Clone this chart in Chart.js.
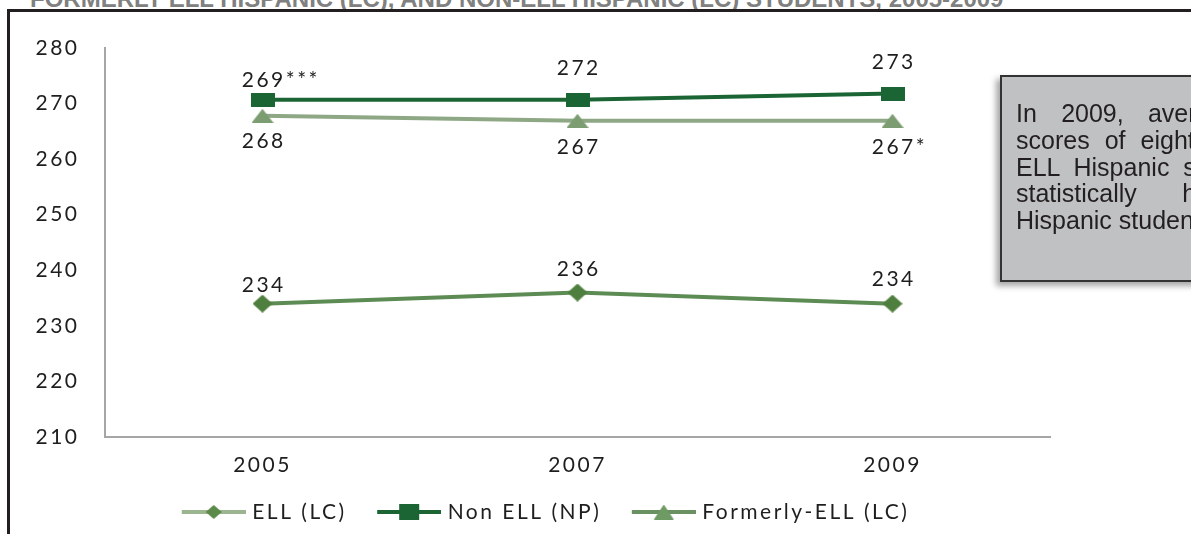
<!DOCTYPE html>
<html>
<head>
<meta charset="utf-8">
<script src="https://cdn.jsdelivr.net/npm/chart.js@4.4.0/dist/chart.umd.min.js"></script>
<style>
  html, body { margin: 0; padding: 0; background: #fff; }
  body { width: 1191px; height: 534px; position: relative; overflow: hidden; font-family: "Liberation Sans", Arial, sans-serif; }
  #title { position: absolute; left: 30px; top: -13px; white-space: nowrap; font-weight: bold; font-size: 24px; line-height: 24px; color: #808080; }
  #frame { position: absolute; left: 7px; top: 9px; width: 1300px; height: 600px; border-left: 3px solid #231f20; border-top: 3px solid #231f20; }
  #note { position: absolute; left: 1000px; top: 75px; width: 360px; height: 207px; box-sizing: border-box;
          background: #c0c1c3; border: 2px solid #333; box-shadow: -4px 4px 6px rgba(0,0,0,0.35);
          padding: 23px 0 0 14px; font-size: 25px; line-height: 26.8px; color: #231f20; }
  #note div { width: 330px; white-space: nowrap; text-align: justify; text-align-last: justify; }
  #note div.last { text-align-last: left; }
  canvas { position: absolute; left: 0; top: 0; }
</style>
</head>
<body>
<div id="title">FORMERLY ELL HISPANIC (LC), AND NON-ELL HISPANIC (LC) STUDENTS, 2005-2009</div>
<div id="frame"></div>
<canvas id="chart" width="1191" height="534"></canvas>
<div id="note">
  <div>In 2009, average reading</div>
  <div>scores of eighth-grade prior</div>
  <div>ELL Hispanic students were</div>
  <div>statistically higher than</div>
  <div class="last">Hispanic students.</div>
</div>
<script>
const years = ['2005', '2007', '2009'];

const ellScores = [234, 236, 234];
const nonEllScores = [270.7, 270.7, 271.8];
const formerEllScores = [267.8, 266.9, 266.9];

const ellLabels = ['234', '236', '234'];
const nonEllLabels = ['269***', '272', '273'];
const formerEllLabels = ['268', '267', '267*'];

const yMin = 210;
const yMax = 280;
const yStep = 10;

const FONT = 'Lato';
const SPACING = '2.5px';

function marker(shape, color, w, h) {
    const c = document.createElement('canvas');
    c.width = w;
    c.height = h;
    const g = c.getContext('2d');
    g.fillStyle = color;
    g.beginPath();
    if (shape === 'diamond') {
        g.moveTo(w / 2, 0); g.lineTo(w, h / 2); g.lineTo(w / 2, h); g.lineTo(0, h / 2);
    } else if (shape === 'triangle') {
        g.moveTo(w / 2, 0); g.lineTo(w, h); g.lineTo(0, h);
    } else {
        g.rect(0, 0, w, h);
    }
    g.closePath();
    g.fill();
    return c;
}

// line + marker icon for the legend, with a blank strip on the left as item gap
function legendIcon(shape, lineColor, markColor, w, h) {
    const gap = 10;
    const c = document.createElement('canvas');
    c.width = 64 + gap;
    c.height = 22;
    const g = c.getContext('2d');
    g.strokeStyle = lineColor;
    g.lineWidth = 4;
    g.beginPath();
    g.moveTo(gap, 11);
    g.lineTo(gap + 64, 11);
    g.stroke();
    g.drawImage(marker(shape, markColor, w, h), gap + 32 - w / 2, 11 - h / 2);
    return c;
}

const legendIcons = [
    legendIcon('diamond', '#9ab58f', '#5c8a48', 16, 14),
    legendIcon('rect', '#1b6535', '#1b6535', 20, 16),
    legendIcon('triangle', '#6a9161', '#6e9a64', 20, 15)
];

const spacing = {
    id: 'spacing',
    beforeUpdate(chart) { chart.ctx.letterSpacing = SPACING; },
    beforeDraw(chart) { chart.ctx.letterSpacing = SPACING; }
};

const valueLabels = {
    id: 'valueLabels',
    afterDatasetsDraw(chart, args, opts) {
        const ctx = chart.ctx;
        ctx.save();
        ctx.letterSpacing = SPACING;
        ctx.font = '21px ' + FONT;
        ctx.fillStyle = '#1e1e1e';
        ctx.textBaseline = 'middle';
        ctx.textAlign = 'left';
        chart.data.datasets.forEach((ds, i) => {
            chart.getDatasetMeta(i).data.forEach((pt, j) => {
                const text = opts.texts[i][j];
                const num = text.replace(/\*/g, '');
                const w = ctx.measureText(num).width - 2.5;
                ctx.fillText(text, pt.x - w / 2, pt.y + opts.offsets[i][j]);
            });
        });
        ctx.restore();
    }
};

const data = {
    labels: years,
    datasets: [
        {
            label: 'ELL (LC)',
            data: ellScores,
            borderColor: '#5d8b54',
            borderWidth: 4,
            pointStyle: marker('diamond', '#4f7f3e', 20, 18),
            pointRadius: 9
        },
        {
            label: 'Non ELL (NP)',
            data: nonEllScores,
            borderColor: '#1b6535',
            borderWidth: 4,
            pointStyle: marker('rect', '#1b6535', 24, 14),
            pointRadius: 9
        },
        {
            label: 'Formerly-ELL (LC)',
            data: formerEllScores,
            borderColor: '#8ea886',
            borderWidth: 4,
            pointStyle: marker('triangle', '#7c9d72', 22, 14),
            pointRadius: 9
        }
    ]
};

const tickFont = { family: FONT, size: 21 };

const config = {
    type: 'line',
    data,
    options: {
        responsive: false,
        animation: false,
        layout: { padding: { left: 35, right: 141, top: 48, bottom: 1.5 } },
        scales: {
            x: {
                offset: true,
                grid: { display: false, drawTicks: false },
                border: { color: '#a6a6a6', width: 2 },
                ticks: { padding: 16, color: '#1e1e1e', font: tickFont },
                afterFit: (scale) => { scale.height = 40; }
            },
            y: {
                min: yMin,
                max: yMax,
                grid: { display: false, drawTicks: false },
                border: { color: '#a6a6a6', width: 2 },
                ticks: { stepSize: yStep, padding: 25.5, color: '#1e1e1e', font: tickFont },
                afterFit: (scale) => { scale.width = 70; }
            }
        },
        plugins: {
            tooltip: { enabled: false },
            legend: {
                position: 'bottom',
                labels: {
                    usePointStyle: true,
                    pointStyleWidth: 66,
                    padding: 24.5,
                    color: '#1e1e1e',
                    font: tickFont,
                    generateLabels: (chart) => chart.data.datasets.map((ds, i) => ({
                        text: ds.label,
                        pointStyle: legendIcons[i],
                        fillStyle: 'transparent',
                        strokeStyle: 'transparent',
                        lineWidth: 0,
                        hidden: false,
                        datasetIndex: i,
                        fontColor: '#1e1e1e'
                    }))
                }
            },
            valueLabels: {
                texts: [ellLabels, nonEllLabels, formerEllLabels],
                offsets: [[-18, -23, -24], [-19, -31, -31], [25, 26, 26]]
            }
        }
    },
    plugins: [spacing, valueLabels]
};

const chart = new Chart(document.getElementById('chart'), config);
</script>
</body>
</html>
